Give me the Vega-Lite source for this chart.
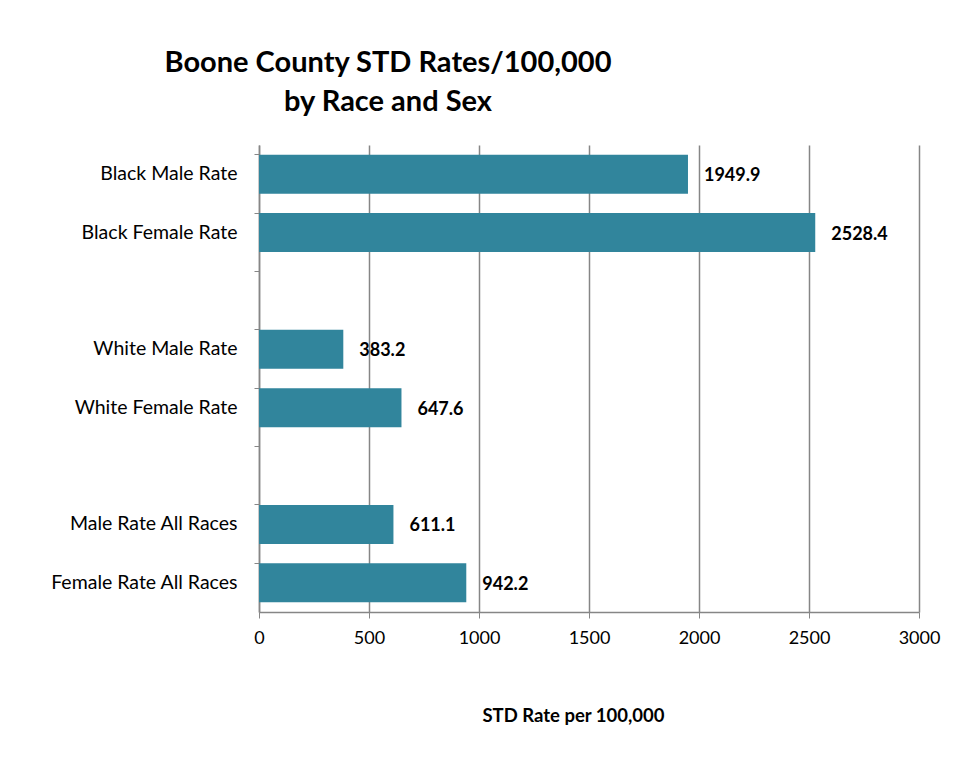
{
  "$schema": "https://vega.github.io/schema/vega-lite/v6.json",
  "width": 660,
  "height": 467,
  "autosize": {"type": "none"},
  "padding": {"left": 259, "top": 145, "right": 45, "bottom": 170},
  "background": "white",
  "title": {
    "text": ["Boone County STD Rates/100,000", "by Race and Sex"],
    "font": "Lato",
    "fontSize": 29,
    "fontWeight": "bold",
    "color": "black",
    "anchor": "start",
    "frame": "group",
    "align": "center",
    "dx": 129,
    "lineHeight": 39,
    "offset": 28
  },
  "data": {
    "values": [
      {"group": "Black Male Rate", "rate": 1949.9},
      {"group": "Black Female Rate", "rate": 2528.4},
      {"group": "White Male Rate", "rate": 383.2},
      {"group": "White Female Rate", "rate": 647.6},
      {"group": "Male Rate All Races", "rate": 611.1},
      {"group": "Female Rate All Races", "rate": 942.2}
    ]
  },
  "encoding": {
    "y": {
      "field": "group",
      "type": "nominal",
      "sort": null,
      "scale": {
        "domain": ["Black Male Rate", "Black Female Rate", "gap1", "White Male Rate", "White Female Rate", "gap2", "Male Rate All Races", "Female Rate All Races"],
        "paddingInner": 0.33,
        "paddingOuter": 0.165
      },
      "axis": {
        "title": null,
        "labelExpr": "indexof(datum.value, 'gap') == 0 ? '' : datum.value",
        "bandPosition": 0,
        "labelFont": "Lato",
        "labelFontSize": 19.5,
        "labelColor": "black",
        "labelLimit": 300,
        "labelPadding": 17,
        "tickSize": 5,
        "tickColor": "#868686",
        "domainColor": "#868686",
        "domainWidth": 1.5,
        "grid": false
      }
    },
    "x": {
      "field": "rate",
      "type": "quantitative",
      "scale": {"domain": [0, 3000], "nice": false},
      "axis": {
        "title": "STD Rate per 100,000",
        "titleFont": "Lato",
        "titleFontSize": 18.5,
        "titleFontWeight": "bold",
        "titleColor": "black",
        "titleX": 314,
        "titleY": 103,
        "titleBaseline": "middle",
        "values": [0, 500, 1000, 1500, 2000, 2500, 3000],
        "format": "d",
        "labelFont": "Lato",
        "labelFontSize": 18,
        "labelColor": "black",
        "labelPadding": 11,
        "labelFlush": false,
        "tickSize": 6,
        "tickColor": "#868686",
        "domainColor": "#868686",
        "domainWidth": 1.5,
        "grid": true,
        "gridColor": "#868686",
        "gridWidth": 1.5
      }
    }
  },
  "layer": [
    {
      "mark": {"type": "bar", "color": "#31859c"}
    },
    {
      "mark": {
        "type": "text",
        "align": "left",
        "baseline": "middle",
        "dx": 16,
        "dy": 2,
        "font": "Lato",
        "fontSize": 18,
        "fontWeight": "bold",
        "color": "black"
      },
      "encoding": {
        "text": {"field": "rate", "type": "quantitative", "format": ".1f"}
      }
    }
  ],
  "config": {
    "view": {"stroke": null}
  }
}
